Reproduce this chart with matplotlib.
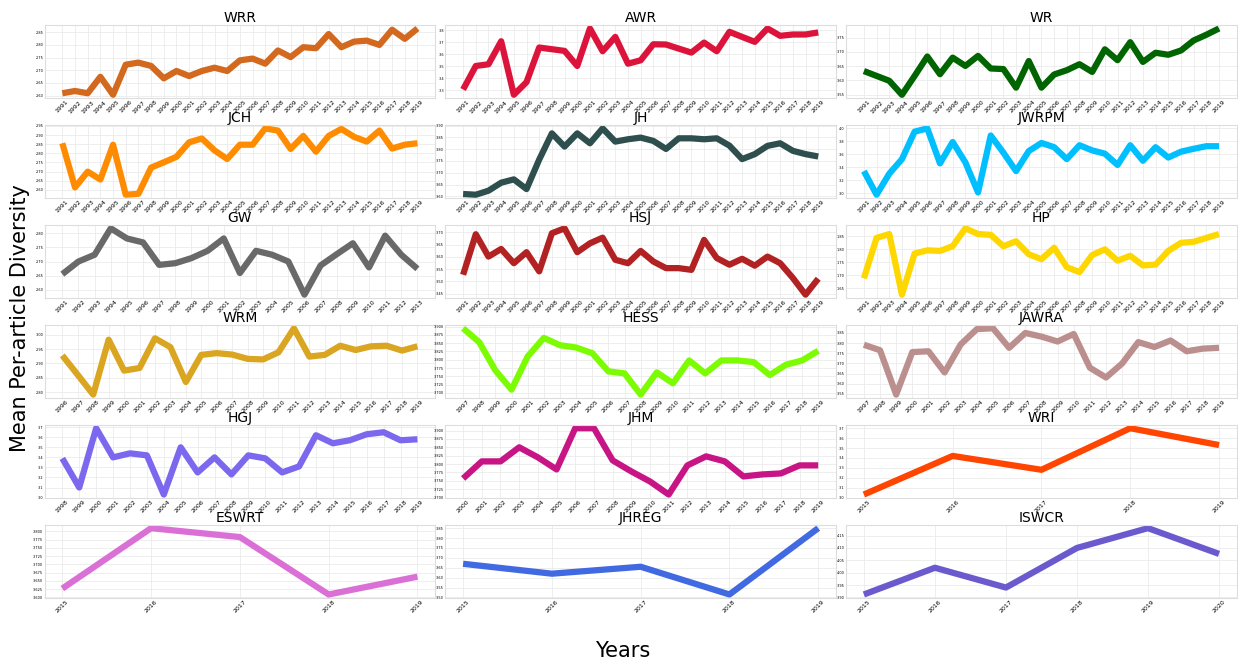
import numpy as np
import matplotlib
matplotlib.use("Agg")
import matplotlib.pyplot as plt

# journal names, colours, years and mean per-article diversity values
journals = ["WRR", "AWR", "WR", "JCH", "JH", "JWRPM", "GW", "HSJ", "HP",
            "WRM", "HESS", "JAWRA", "HGJ", "JHM", "WRI", "ESWRT", "JHREG", "ISWCR"]

colors = ["chocolate", "crimson", "darkgreen", "darkorange", "darkslategray", "deepskyblue",
          "dimgray", "firebrick", "gold", "goldenrod", "lawngreen", "rosybrown",
          "mediumslateblue", "mediumvioletred", "orangered", "orchid", "royalblue", "slateblue"]

start_years = [1991, 1991, 1991, 1991, 1991, 1991, 1991, 1991, 1991,
               1996, 1997, 1997, 1998, 2000, 2015, 2015, 2015, 2015]

wrr = [2.609, 2.618, 2.609, 2.674, 2.603, 2.722, 2.730, 2.717, 2.668, 2.697, 2.677, 2.697, 2.710, 2.697,
       2.739, 2.746, 2.726, 2.778, 2.752, 2.791, 2.787, 2.843, 2.791, 2.813, 2.817, 2.800, 2.860, 2.824, 2.865]
awr = [3.308, 3.503, 3.517, 3.708, 3.264, 3.369, 3.656, 3.642, 3.628, 3.503, 3.814, 3.625, 3.744, 3.522,
       3.550, 3.683, 3.681, 3.647, 3.614, 3.697, 3.625, 3.786, 3.744, 3.703, 3.814, 3.753, 3.764, 3.764, 3.781]
wr = [3.633, 3.616, 3.599, 3.550, 3.616, 3.684, 3.622, 3.680, 3.651, 3.686, 3.642, 3.640, 3.575, 3.668,
      3.575, 3.621, 3.636, 3.657, 3.630, 3.709, 3.671, 3.734, 3.665, 3.697, 3.690, 3.705, 3.740, 3.760, 3.782]
jch = [2.855, 2.614, 2.700, 2.657, 2.847, 2.574, 2.579, 2.722, 2.751, 2.781, 2.860, 2.881, 2.816, 2.769,
       2.847, 2.847, 2.936, 2.924, 2.824, 2.895, 2.809, 2.895, 2.933, 2.890, 2.864, 2.924, 2.826, 2.847, 2.855]
jh = [3.610, 3.607, 3.624, 3.658, 3.672, 3.631, 3.756, 3.867, 3.811, 3.867, 3.825, 3.888, 3.832, 3.842,
      3.849, 3.835, 3.801, 3.846, 3.846, 3.842, 3.846, 3.815, 3.758, 3.779, 3.814, 3.825, 3.793, 3.779, 3.769]
jwrpm = [3.34, 2.975, 3.30, 3.525, 3.95, 4.00, 3.46, 3.79, 3.475, 3.01, 3.89, 3.625, 3.34, 3.65,
         3.775, 3.71, 3.525, 3.74, 3.66, 3.61, 3.435, 3.74, 3.50, 3.71, 3.55, 3.64, 3.685, 3.725, 3.725]
gw = [2.655, 2.700, 2.724, 2.818, 2.782, 2.768, 2.688, 2.694, 2.712, 2.738, 2.782, 2.659, 2.738, 2.724,
      2.700, 2.582, 2.686, 2.726, 2.765, 2.679, 2.792, 2.724, 2.674]
hsj = [3.527, 3.692, 3.601, 3.632, 3.574, 3.619, 3.541, 3.696, 3.716, 3.619, 3.655, 3.678, 3.588, 3.574,
       3.624, 3.581, 3.554, 3.554, 3.547, 3.669, 3.595, 3.568, 3.592, 3.564, 3.601, 3.574, 3.514, 3.446, 3.511]
hp = [1.688, 1.844, 1.859, 1.625, 1.784, 1.796, 1.794, 1.812, 1.881, 1.859, 1.856, 1.812, 1.831, 1.781,
      1.762, 1.806, 1.731, 1.712, 1.778, 1.800, 1.756, 1.775, 1.738, 1.741, 1.794, 1.825, 1.829, 1.844, 1.859]
wrm = [2.928, 2.860, 2.791, 2.983, 2.875, 2.884, 2.988, 2.957, 2.835, 2.930, 2.936, 2.931, 2.916, 2.914,
       2.939, 3.023, 2.924, 2.930, 2.962, 2.947, 2.960, 2.962, 2.945, 2.960]
hess = [3.895, 3.853, 3.768, 3.710, 3.810, 3.866, 3.844, 3.837, 3.820, 3.765, 3.759, 3.695, 3.762, 3.729,
        3.798, 3.759, 3.798, 3.798, 3.793, 3.754, 3.785, 3.798, 3.827]
jawra = [3.792, 3.765, 3.547, 3.756, 3.760, 3.656, 3.794, 3.869, 3.873, 3.777, 3.850, 3.832, 3.808, 3.845,
         3.679, 3.631, 3.700, 3.805, 3.781, 3.813, 3.760, 3.773, 3.777]
hgj = [3.39, 3.10, 3.69, 3.40, 3.44, 3.42, 3.03, 3.50, 3.25, 3.40, 3.23, 3.42, 3.39, 3.25, 3.31, 3.62,
       3.54, 3.57, 3.63, 3.65, 3.57, 3.58]
jhm = [3.757, 3.808, 3.808, 3.850, 3.820, 3.784, 3.907, 3.907, 3.811, 3.778, 3.748, 3.709, 3.796, 3.823,
       3.808, 3.763, 3.769, 3.772, 3.796, 3.796]
wri = [3.03, 3.42, 3.28, 3.70, 3.53]
eswrt = [3.627, 3.810, 3.783, 3.609, 3.663]
jhreg = [3.67, 3.62, 3.655, 3.515, 3.85]
iswcr = [3.912, 4.02, 3.94, 4.10, 4.18, 4.076]

values = [wrr, awr, wr, jch, jh, jwrpm, gw, hsj, hp, wrm, hess, jawra, hgj, jhm, wri, eswrt, jhreg, iswcr]

fig, axes = plt.subplots(6, 3, figsize=(12.38, 6.62), dpi=100)
plt.subplots_adjust(left=0.036, right=0.999, top=0.962, bottom=0.097, wspace=0.026, hspace=0.37)

for ax, name, col, y0, vals in zip(axes.flat, journals, colors, start_years, values):
    years = [str(y0 + i) for i in range(len(vals))]
    ax.plot(years, vals, color=col, linewidth=4.5, solid_capstyle="butt")
    ax.set_title(name, fontsize=10, pad=2)
    ax.grid(True, color="#ebebeb", linewidth=0.6)
    ax.set_axisbelow(True)
    ax.tick_params(axis="x", labelsize=4.5, rotation=45, length=0, pad=1)
    ax.tick_params(axis="y", labelsize=2.5, length=0, pad=1)
    for s in ax.spines.values():
        s.set_color("#dddddd")
        s.set_linewidth(0.8)

fig.text(0.016, 0.52, "Mean Per-article Diversity", rotation=90, ha="center", va="center", fontsize=15)
fig.text(0.503, 0.017, "Years", ha="center", va="center", fontsize=15)

plt.savefig("out.png", dpi=100)
